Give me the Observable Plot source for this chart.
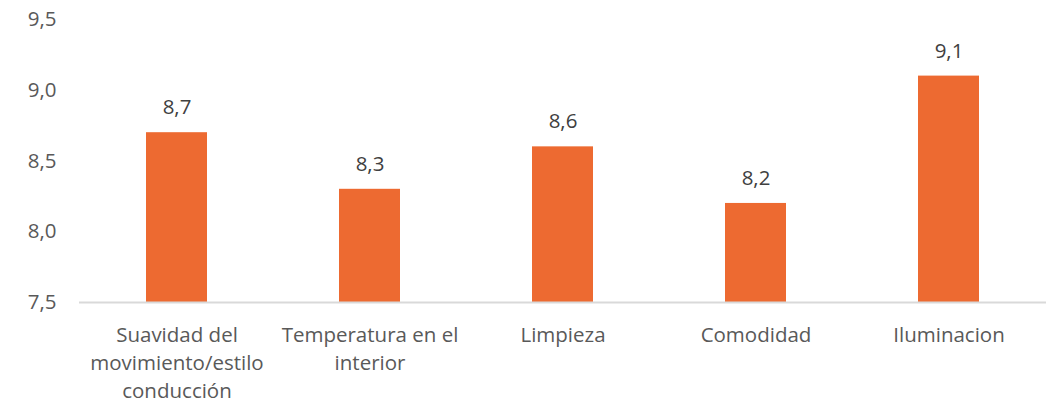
<!DOCTYPE html>
<html><head><meta charset="utf-8">
<script src="https://cdn.jsdelivr.net/npm/d3@7"></script>
<script src="https://cdn.jsdelivr.net/npm/@observablehq/plot@0.6"></script>
<style>
body{margin:0;background:#fff;}
svg{font-family:"Open Sans",sans-serif;}
</style>
</head><body>
<div id="chart"></div>
<script>
const categories = ["Suavidad del\nmovimiento/estilo\nconducción", "Temperatura en el\ninterior", "Limpieza", "Comodidad", "Iluminacion"];
const values = [8.7, 8.3, 8.6, 8.2, 9.1];
const yTicks = [7.5, 8.0, 8.5, 9.0, 9.5];

const data = categories.map((c, i) => ({category: c, value: values[i]}));
const fmt = v => v.toFixed(1).replace(".", ",");

const chart = Plot.plot({
  width: 1051,
  height: 404,
  marginTop: 19,
  marginBottom: 102,
  marginLeft: 79,
  marginRight: 5,
  style: {fontFamily: "'Open Sans', sans-serif", fontSize: "20.5px", color: "#595959", background: "#fff"},
  x: {domain: categories, paddingInner: 0.685, paddingOuter: 0.3425, label: null},
  y: {domain: [7.5, 9.5], label: null},
  marks: [
    Plot.barY(data, {x: "category", y1: 7.5, y2: "value", fill: "#ED6A31"}),
    Plot.ruleY([7.5], {stroke: "#D9D9D9", strokeWidth: 2}),
    Plot.text(data, {x: "category", y: "value", text: d => fmt(d.value), dy: -25, fill: "#404040", fontSize: 20.5}),
    Plot.axisY({ticks: yTicks, tickFormat: fmt, tickSize: 0, tickPadding: 23, fill: "#595959", fontSize: 20.5, label: null}),
    Plot.axisX({tickSize: 0, tickPadding: 20, lineHeight: 1.36, fill: "#595959", fontSize: 20.5, label: null})
  ]
});
document.getElementById("chart").appendChild(chart);
</script>
</body></html>
